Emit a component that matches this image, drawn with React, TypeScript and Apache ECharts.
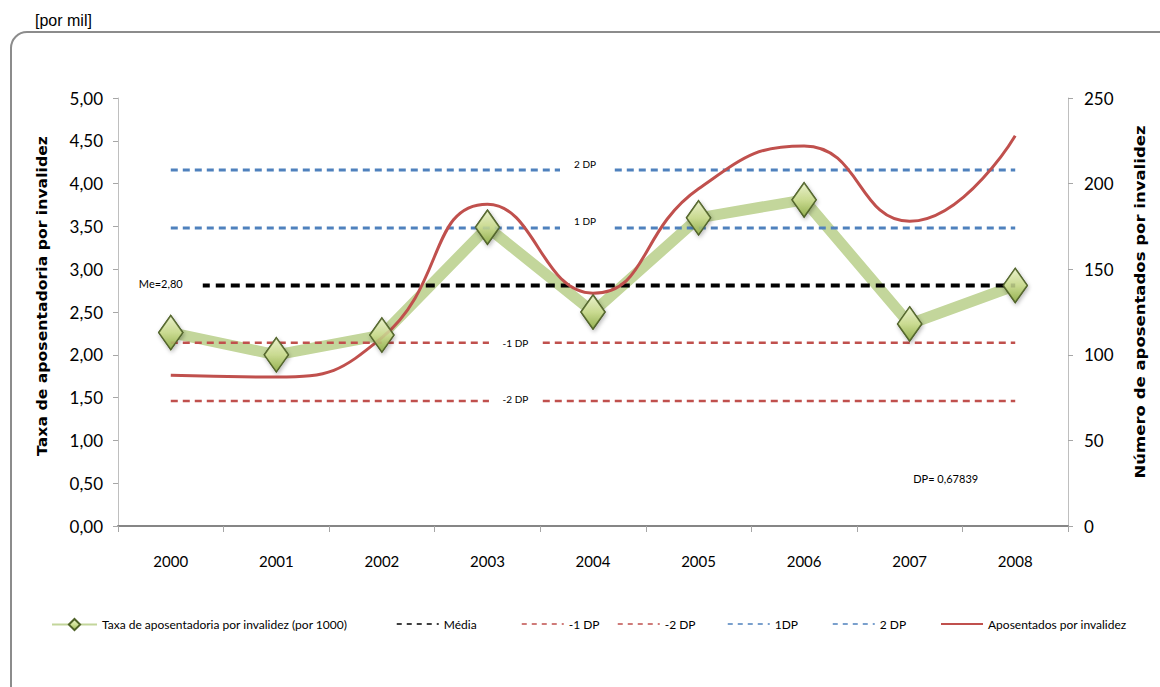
import React, { useEffect, useRef } from "react";
import * as echarts from "echarts";

const years = ["2000", "2001", "2002", "2003", "2004", "2005", "2006", "2007", "2008"];
const taxa = [2.26, 2.0, 2.23, 3.49, 2.5, 3.6, 3.81, 2.36, 2.81];
const aposentados = [88, 87, 110, 188, 136, 197, 222, 178, 228];

const mediaValue = 2.81;
const minus1Value = 2.14;
const minus2Value = 1.46;
const plus1Value = 3.48;
const plus2Value = 4.16;

const mediaLine = years.map(() => mediaValue);
const minus1Line = years.map(() => minus1Value);
const minus2Line = years.map(() => minus2Value);
const plus1Line = years.map(() => plus1Value);
const plus2Line = years.map(() => plus2Value);

const NARROW = 'Lato, "Liberation Sans", sans-serif';
const BOLD = '"DejaVu Sans", Verdana, sans-serif';

const GREEN_NAME = "Taxa de aposentadoria por invalidez (por 1000)";
const RED_NAME = "Aposentados por invalidez";
const LEFT_AXIS_NAME = "Taxa de aposentadoria por invalidez";
const RIGHT_AXIS_NAME = "Número de aposentados por invalidez";

export default function App() {
  const ref = useRef<HTMLDivElement>(null);
  useEffect(() => {
    document.body.style.margin = "0";
    const chart = echarts.init(ref.current!, null, { renderer: "svg" });
    const diamondFill = new echarts.graphic.LinearGradient(0, 0, 0, 1, [
      { offset: 0, color: "#eef5cf" },
      { offset: 0.5, color: "#cfe095" },
      { offset: 1, color: "#98b553" },
    ]);
    const legendBase = {
      top: 613,
      itemHeight: 14,
      itemGap: 0,
      textStyle: { fontFamily: NARROW, fontSize: 12, color: "#000" },
    };
    const hidden = { opacity: 0 };
    const dashed = { width: 1.5, type: [5, 5] };
    const option: any = {
      animation: false,
      backgroundColor: "#ffffff",
      grid: { left: 118, right: 92, top: 98, bottom: 161 },
      legend: [
        { ...legendBase, left: 46, itemWidth: 45, data: [{ name: GREEN_NAME, lineStyle: { width: 2 } }] },
        { ...legendBase, left: 391, itemWidth: 42, data: [{ name: "Média", lineStyle: dashed, itemStyle: hidden }] },
        { ...legendBase, left: 516, itemWidth: 42, data: [{ name: "-1 DP", lineStyle: dashed, itemStyle: hidden }] },
        { ...legendBase, left: 612, itemWidth: 42, data: [{ name: "-2 DP", lineStyle: dashed, itemStyle: hidden }] },
        { ...legendBase, left: 722, itemWidth: 42, data: [{ name: "1DP", lineStyle: dashed, itemStyle: hidden }] },
        { ...legendBase, left: 827, itemWidth: 42, data: [{ name: "2 DP", lineStyle: dashed, itemStyle: hidden }] },
        { ...legendBase, left: 935, itemWidth: 42, data: [{ name: RED_NAME, lineStyle: { width: 2 }, itemStyle: hidden }] },
      ],
      xAxis: {
        type: "category",
        data: years,
        boundaryGap: true,
        axisLine: { lineStyle: { color: "#868686", width: 2 } },
        axisTick: { show: true, length: 6, lineStyle: { color: "#a6a6a6" } },
        axisLabel: { margin: 27, fontSize: 15, color: "#000", fontFamily: NARROW },
        splitLine: { show: false },
      },
      yAxis: [
        {
          type: "value",
          min: 0,
          max: 5,
          interval: 0.5,
          position: "left",
          axisLine: { show: true, lineStyle: { color: "#bfbfbf", width: 1 } },
          axisTick: { show: true, length: 5, lineStyle: { color: "#a6a6a6" } },
          axisLabel: {
            margin: 15,
            fontSize: 17,
            color: "#000",
            fontFamily: NARROW,
            formatter: (v: number) => v.toFixed(2).replace(".", ","),
          },
          splitLine: { show: false },
        },
        {
          type: "value",
          min: 0,
          max: 250,
          interval: 50,
          position: "right",
          axisLine: { show: true, lineStyle: { color: "#bfbfbf", width: 1 } },
          axisTick: { show: true, length: 5, lineStyle: { color: "#a6a6a6" } },
          axisLabel: { margin: 16, fontSize: 17, color: "#000", fontFamily: NARROW },
          splitLine: { show: false },
        },
      ],
      series: [
        {
          name: GREEN_NAME,
          type: "line",
          data: taxa,
          z: 2,
          symbol: "diamond",
          symbolSize: [24, 34],
          showSymbol: true,
          lineStyle: { color: "#c3d69b", width: 11 },
          itemStyle: { color: diamondFill, borderColor: "#4f6228", borderWidth: 1.5 },
        },
        {
          name: "Média",
          type: "line",
          data: mediaLine,
          z: 3,
          symbol: "none",
          lineStyle: { color: "#000", width: 4, type: [9, 6] },
          itemStyle: { color: "#000" },
        },
        {
          name: "-1 DP",
          type: "line",
          data: minus1Line,
          z: 3,
          symbol: "none",
          lineStyle: { color: "#c0504d", width: 2.5, type: [7, 5] },
          itemStyle: { color: "#c0504d" },
        },
        {
          name: "-2 DP",
          type: "line",
          data: minus2Line,
          z: 3,
          symbol: "none",
          lineStyle: { color: "#c0504d", width: 2.5, type: [7, 5] },
          itemStyle: { color: "#c0504d" },
        },
        {
          name: "1DP",
          type: "line",
          data: plus1Line,
          z: 3,
          symbol: "none",
          lineStyle: { color: "#4f81bd", width: 3, type: [7, 5] },
          itemStyle: { color: "#4f81bd" },
        },
        {
          name: "2 DP",
          type: "line",
          data: plus2Line,
          z: 3,
          symbol: "none",
          lineStyle: { color: "#4f81bd", width: 3, type: [7, 5] },
          itemStyle: { color: "#4f81bd" },
        },
        {
          name: RED_NAME,
          type: "line",
          yAxisIndex: 1,
          data: aposentados,
          z: 4,
          smooth: 0.5,
          symbol: "none",
          lineStyle: { color: "#c0504d", width: 3 },
          itemStyle: { color: "#c0504d" },
        },
        {
          name: "diamantes",
          type: "scatter",
          data: taxa,
          z: 6,
          symbol: "diamond",
          symbolSize: [24, 34],
          itemStyle: {
            color: diamondFill,
            borderColor: "#4f6228",
            borderWidth: 1.5,
            shadowColor: "rgba(0,0,0,0.35)",
            shadowBlur: 4,
            shadowOffsetX: 1,
            shadowOffsetY: 2,
          },
        },
      ],
    };
    chart.setOption(option);

    const px = (idx: number, v: number) =>
      chart.convertToPixel({ xAxisIndex: 0, yAxisIndex: 0 }, [idx, v]) as number[];

    const lineLabel = (text: string, cx: number, cy: number, boxW: number, textDy: number) => ({
      type: "group",
      z: 50,
      children: [
        {
          type: "rect",
          z: 50,
          shape: { x: cx - boxW / 2, y: cy - 5, width: boxW, height: 10 },
          style: { fill: "#ffffff" },
        },
        {
          type: "text",
          z: 51,
          x: cx,
          y: cy + textDy,
          style: {
            text,
            fill: "#000",
            font: `10px ${NARROW}`,
            align: "center",
            verticalAlign: "middle",
          },
        },
      ],
    });

    const pMe = px(0, mediaValue);
    const pP2 = px(4, plus2Value);
    const pP1 = px(4, plus1Value);
    const pM1 = px(3, minus1Value);
    const pM2 = px(3, minus2Value);
    const pDp = px(7, 0.5);

    chart.setOption({
      graphic: [
        {
          type: "rect",
          z: -10,
          shape: { x: 11, y: 32, width: 1220, height: 680, r: 16 },
          style: { fill: "none", stroke: "#8c8c8c", lineWidth: 2 },
        },
        {
          type: "text",
          left: 35,
          top: 12,
          style: { text: "[por mil]", fill: "#000", font: '16px "Liberation Sans", Arial, sans-serif' },
        },
        {
          type: "text",
          x: 42,
          y: 296,
          rotation: Math.PI / 2,
          scaleX: 1.12,
          style: {
            text: LEFT_AXIS_NAME,
            fill: "#000",
            font: `bold 14px ${BOLD}`,
            align: "center",
            verticalAlign: "middle",
          },
        },
        {
          type: "text",
          x: 1140,
          y: 302,
          rotation: Math.PI / 2,
          scaleX: 1.18,
          style: {
            text: RIGHT_AXIS_NAME,
            fill: "#000",
            font: `bold 14px ${BOLD}`,
            align: "center",
            verticalAlign: "middle",
          },
        },
        {
          type: "group",
          z: 50,
          children: [
            {
              type: "rect",
              z: 50,
              shape: { x: pMe[0] - 4, y: pMe[1] - 5, width: 36, height: 10 },
              style: { fill: "#ffffff" },
            },
            {
              type: "text",
              z: 51,
              x: pMe[0] - 10,
              y: pMe[1] - 2,
              style: { text: "Me=2,80", fill: "#000", font: `11px ${NARROW}`, align: "center", verticalAlign: "middle" },
            },
          ],
        },
        lineLabel("2 DP", pP2[0] - 8, pP2[1], 50, -6),
        lineLabel("1 DP", pP1[0] - 8, pP1[1], 50, -7),
        lineLabel("-1 DP", pM1[0] + 28, pM1[1], 53, 0),
        lineLabel("-2 DP", pM2[0] + 28, pM2[1], 53, -2),
        {
          type: "text",
          z: 51,
          x: pDp[0] + 36,
          y: pDp[1] - 5,
          style: { text: "DP= 0,67839", fill: "#000", font: `11px ${NARROW}`, align: "center", verticalAlign: "middle" },
        },
      ],
    });

    return () => chart.dispose();
  }, []);
  return <div ref={ref} style={{ position: "absolute", left: 0, top: 0, width: 1160, height: 687 }} />;
}
